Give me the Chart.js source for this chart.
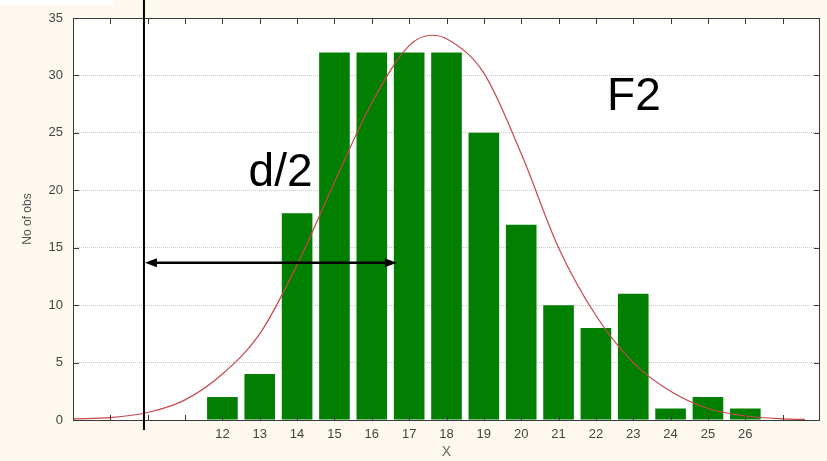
<!DOCTYPE html>
<html>
<head>
<meta charset="utf-8">
<script src="https://cdn.jsdelivr.net/npm/chart.js@4/dist/chart.umd.min.js"></script>
<style>
  html, body { margin: 0; padding: 0; background: #fdf9ef; }
  #wrap { position: relative; width: 827px; height: 461px; }
  #corner { position: absolute; left: 0; top: 0; width: 113px; height: 5px; background: #fff; }
</style>
</head>
<body>
<div id="wrap">
  <canvas id="histChart" width="827" height="461"></canvas>
  <div id="corner"></div>
</div>
<script>
// histogram classes and counts
const classes = [12, 13, 14, 15, 16, 17, 18, 19, 20, 21, 22, 23, 24, 25, 26];
const counts = [2, 4, 18, 32, 32, 32, 32, 25, 17, 10, 8, 11, 1, 2, 1];

// fitted normal curve
const curveX = [8, 9, 10, 11, 12, 13, 14, 15, 16, 17, 17.6, 18, 19, 20, 21, 22, 23, 24, 25, 26, 27, 27.6];
const curveY = [0.1, 0.2, 0.65, 1.75, 4.0, 7.5, 13.5, 20.7, 27.6, 32.6, 33.5, 33.2, 30.2, 23.2, 15.0, 9.1, 5.0, 2.5, 1.0, 0.35, 0.1, 0.05];

// axis ranges and labels
const xMin = 8, xMax = 28;
const yMax = 35, yStep = 5;
const labelledX = [12, 13, 14, 15, 16, 17, 18, 19, 20, 21, 22, 23, 24, 25, 26];

// annotations (data coordinates)
const markX = 9.9;
const arrowY = 13.7, arrowTo = 16.67;
const notes = [
    { text: 'd/2', x: 12.7, y: 20.4 },
    { text: 'F2', x: 22.3, y: 27.0 }
];

const axisColor = '#3a3a3a';

const frame = {
    id: 'frame',
    beforeDraw(chart) {
        const { ctx, chartArea: a } = chart;
        ctx.save();
        ctx.fillStyle = '#fff';
        ctx.fillRect(a.left, a.top, a.right - a.left, a.bottom - a.top);
        ctx.restore();
    },
    afterDraw(chart) {
        const { ctx, chartArea: a, scales } = chart;
        const x = scales.x, y = scales.y;
        const L = Math.round(a.left), R = Math.round(a.right), T = Math.round(a.top), B = Math.round(a.bottom);
        ctx.save();
        ctx.setLineDash([]);
        // box
        ctx.fillStyle = axisColor;
        ctx.fillRect(L, T, R - L, 1);
        ctx.fillRect(L, B, R - L, 1);
        ctx.fillRect(L, T, 1, B - T + 1);
        ctx.fillRect(R - 1, T, 1, B - T + 1);
        // inward ticks
        for (let v = xMin + 1; v < xMax; v++) {
            const px = Math.round(x.getPixelForValue(v));
            ctx.fillRect(px, B - 5, 1, 5);
            ctx.fillRect(px, T + 1, 1, 5);
        }
        for (let v = yStep; v < yMax; v += yStep) {
            const py = Math.round(y.getPixelForValue(v));
            ctx.fillRect(L + 1, py, 5, 1);
            ctx.fillRect(R - 6, py, 5, 1);
        }

        // vertical marker line
        const mx = x.getPixelForValue(markX);
        ctx.strokeStyle = '#000';
        ctx.lineWidth = 2;
        ctx.beginPath();
        ctx.moveTo(mx, 0);
        ctx.lineTo(mx, B + 10);
        ctx.stroke();

        // double arrow
        const ay = y.getPixelForValue(arrowY);
        const ax2 = x.getPixelForValue(arrowTo);
        ctx.lineWidth = 2.5;
        ctx.beginPath();
        ctx.moveTo(mx + 8, ay);
        ctx.lineTo(ax2 - 8, ay);
        ctx.stroke();
        ctx.fillStyle = '#000';
        ctx.beginPath();
        ctx.moveTo(mx + 1, ay); ctx.lineTo(mx + 13, ay - 4.5); ctx.lineTo(mx + 13, ay + 4.5);
        ctx.closePath(); ctx.fill();
        ctx.beginPath();
        ctx.moveTo(ax2, ay); ctx.lineTo(ax2 - 12, ay - 4.5); ctx.lineTo(ax2 - 12, ay + 4.5);
        ctx.closePath(); ctx.fill();

        // big labels
        ctx.font = '46px "Liberation Sans", Arial, sans-serif';
        ctx.textBaseline = 'alphabetic';
        ctx.textAlign = 'left';
        notes.forEach(n => {
            ctx.fillText(n.text, x.getPixelForValue(n.x), y.getPixelForValue(n.y));
        });
        ctx.restore();
    }
};

Chart.defaults.font.family = '"Liberation Sans", Arial, sans-serif';
Chart.defaults.color = '#555';

new Chart(document.getElementById('histChart'), {
    type: 'bar',
    data: {
        datasets: [{
            type: 'line',
            data: curveX.map((v, i) => ({ x: v, y: curveY[i] })),
            borderColor: '#c8474d',
            borderWidth: 1.2,
            pointRadius: 0,
            cubicInterpolationMode: 'monotone',
            fill: false,
            order: 0
        }, {
            type: 'bar',
            data: classes.map((c, i) => ({ x: c, y: counts[i] })),
            backgroundColor: '#007f00',
            borderWidth: 0,
            barPercentage: 0.82,
            categoryPercentage: 1,
            order: 1
        }]
    },
    options: {
        responsive: false,
        animation: false,
        events: [],
        layout: { padding: { left: 0, right: 3, top: 18, bottom: 0 } },
        plugins: { legend: { display: false }, tooltip: { enabled: false } },
        scales: {
            x: {
                type: 'linear',
                min: xMin,
                max: xMax,
                offset: false,
                grid: { display: false, drawTicks: false },
                border: { display: false },
                ticks: {
                    stepSize: 1,
                    autoSkip: false,
                    maxRotation: 0,
                    padding: 7,
                    font: { size: 13 },
                    color: '#444',
                    callback: v => labelledX.includes(v) ? String(v) : ''
                },
                title: { display: true, text: 'X', font: { size: 14 }, color: '#666', padding: { top: 0, bottom: 0 } },
                afterFit: s => { s.height = 41; }
            },
            y: {
                min: 0,
                max: yMax,
                grid: {
                    color: ctx => (ctx.tick.value === 0 || ctx.tick.value === yMax) ? 'rgba(0,0,0,0)' : '#c8c8c8',
                    drawTicks: false,
                    lineWidth: 1
                },
                border: { display: false, dash: [1, 1] },
                ticks: { stepSize: yStep, padding: 10, font: { size: 13 }, color: '#444' },
                title: { display: true, text: 'No of obs', font: { size: 12 }, color: '#555', padding: { top: 20, bottom: 0 } },
                afterFit: s => { s.width = 73; }
            }
        }
    },
    plugins: [frame]
});
</script>
</body>
</html>
